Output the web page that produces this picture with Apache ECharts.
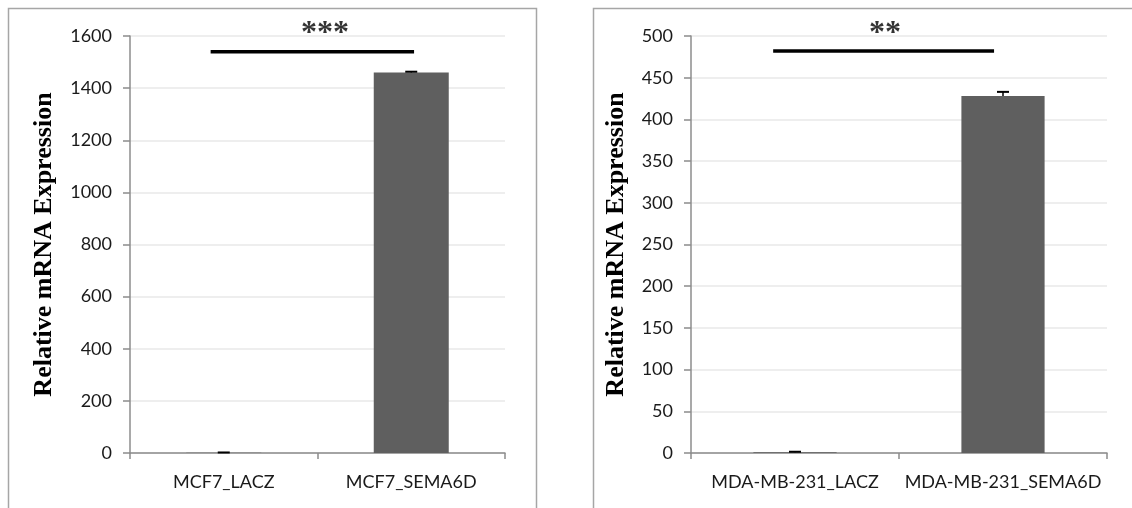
<!DOCTYPE html>
<html>
<head>
<meta charset="utf-8">
<script src="https://cdn.jsdelivr.net/npm/echarts@6/dist/echarts.min.js"></script>
<style>
  html, body { margin: 0; padding: 0; background: #fff; }
  #chart { width: 1132px; height: 508px; }
</style>
</head>
<body>
<div id="chart"></div>
<script>
// ---- data ----
const categoriesA = ['MCF7_LACZ', 'MCF7_SEMA6D'];
const valuesA = [1, 1460];
const errorsA = [1, 3];
const yMaxA = 1600, yStepA = 200;
const sigLabelA = '***';
const sigLevelA = 1540;
const sigSpanA = [-0.07, 1.015];
const sigStarXA = 0.54;

const categoriesB = ['MDA-MB-231_LACZ', 'MDA-MB-231_SEMA6D'];
const valuesB = [1, 428];
const errorsB = [0.5, 5];
const yMaxB = 500, yStepB = 50;
const sigLabelB = '**';
const sigLevelB = 482;
const sigSpanB = [-0.105, 0.957];
const sigStarXB = 0.433;

const yTitle = 'Relative mRNA Expression';

// ---- styles ----
const tickFont = 'Lato, "Open Sans", sans-serif';
const axisGray = '#8c8c8c';
const barColor = '#5f5f5f';

function errRender(params, api) {
  const x = api.value(0), v = api.value(1), e = api.value(2);
  const base = api.coord([x, v]);
  const top = api.coord([x, v + e]);
  return {
    type: 'group',
    children: [
      { type: 'line', shape: { x1: base[0], y1: base[1], x2: top[0], y2: top[1] }, style: { stroke: '#000', lineWidth: 1.5 } },
      { type: 'line', shape: { x1: top[0] - 6, y1: top[1], x2: top[0] + 6, y2: top[1] }, style: { stroke: '#000', lineWidth: 2 } }
    ]
  };
}

function catAxis(grid, cats) {
  return {
    type: 'category', gridIndex: grid, data: cats,
    axisLine: { onZero: false, lineStyle: { color: axisGray, width: 1.5 } },
    axisTick: { show: true, length: 6, lineStyle: { color: axisGray, width: 1.5 } },
    axisLabel: { interval: 0, color: '#1a1a1a', fontFamily: tickFont, fontSize: 18, margin: 20 },
    splitLine: { show: false }
  };
}
function valAxis(grid, max, step, gap) {
  return {
    type: 'value', gridIndex: grid, min: 0, max: max, interval: step,
    name: yTitle, nameLocation: 'middle', nameGap: gap,
    nameTextStyle: { fontFamily: '"Liberation Serif", "Times New Roman", serif', fontWeight: 'bold', fontSize: 26, color: '#000' },
    axisLine: { show: true, onZero: false, lineStyle: { color: axisGray, width: 1.5 } },
    axisTick: { show: true, length: 7, lineStyle: { color: axisGray, width: 1.5 } },
    axisLabel: { color: '#1a1a1a', fontFamily: tickFont, fontSize: 18, margin: 18, formatter: v => String(v) },
    splitLine: { show: true, lineStyle: { color: '#e9e9e9', width: 1.5 } }
  };
}
function hiddenX(grid) {
  return { type: 'value', gridIndex: grid, min: -0.5, max: 1.5, show: false };
}

const chart = echarts.init(document.getElementById('chart'), null, { renderer: 'canvas' });
chart.setOption({
  backgroundColor: '#fff',
  animation: false,
  graphic: [
    { type: 'rect', shape: { x: 8.5, y: 8.5, width: 528, height: 520 }, style: { fill: 'none', stroke: '#a6a6a6', lineWidth: 1.5 }, silent: true, z: -1 },
    { type: 'rect', shape: { x: 593.5, y: 8.5, width: 560, height: 520 }, style: { fill: 'none', stroke: '#a6a6a6', lineWidth: 1.5 }, silent: true, z: -1 }
  ],
  grid: [
    { left: 130, right: 627, top: 36, bottom: 55 },
    { left: 691, right: 25, top: 36, bottom: 55 }
  ],
  xAxis: [catAxis(0, categoriesA), catAxis(1, categoriesB), hiddenX(0), hiddenX(1)],
  yAxis: [valAxis(0, yMaxA, yStepA, 73), valAxis(1, yMaxB, yStepB, 62)],
  series: [
    { type: 'bar', xAxisIndex: 0, yAxisIndex: 0, data: valuesA, barCategoryGap: '60%', itemStyle: { color: barColor }, silent: true },
    { type: 'bar', xAxisIndex: 1, yAxisIndex: 1, data: valuesB, barCategoryGap: '60%', itemStyle: { color: barColor }, silent: true },
    { type: 'custom', xAxisIndex: 0, yAxisIndex: 0, renderItem: errRender, encode: { x: 0, y: 1 },
      data: valuesA.map((v, i) => [i, v, errorsA[i]]), z: 5, silent: true },
    { type: 'custom', xAxisIndex: 1, yAxisIndex: 1, renderItem: errRender, encode: { x: 0, y: 1 },
      data: valuesB.map((v, i) => [i, v, errorsB[i]]), z: 5, silent: true },
    { type: 'line', xAxisIndex: 2, yAxisIndex: 0, symbol: 'none', lineStyle: { color: '#000', width: 3.5 },
      data: sigSpanA.map(x => [x, sigLevelA]), silent: true },
    { type: 'line', xAxisIndex: 3, yAxisIndex: 1, symbol: 'none', lineStyle: { color: '#000', width: 3.5 },
      data: sigSpanB.map(x => [x, sigLevelB]), silent: true },
    { type: 'scatter', xAxisIndex: 2, yAxisIndex: 0, symbolSize: 1, itemStyle: { color: 'rgba(0,0,0,0)' },
      data: [[sigStarXA, sigLevelA]], silent: true,
      label: { show: true, position: 'top', distance: 1, formatter: sigLabelA, fontFamily: '"Liberation Serif", serif', fontWeight: 'bold', fontSize: 32, color: '#000' } },
    { type: 'scatter', xAxisIndex: 3, yAxisIndex: 1, symbolSize: 1, itemStyle: { color: 'rgba(0,0,0,0)' },
      data: [[sigStarXB, sigLevelB]], silent: true,
      label: { show: true, position: 'top', distance: 1, formatter: sigLabelB, fontFamily: '"Liberation Serif", serif', fontWeight: 'bold', fontSize: 32, color: '#000' } }
  ]
});
</script>
</body>
</html>
